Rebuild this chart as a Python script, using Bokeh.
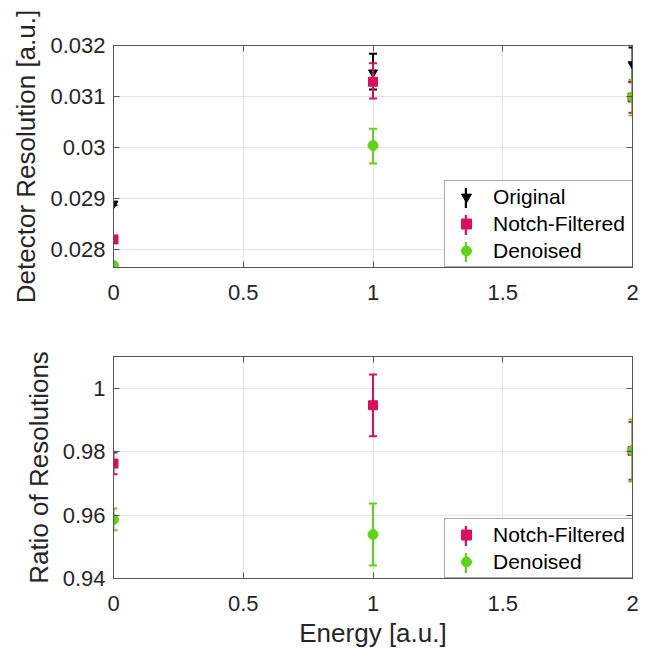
from bokeh.plotting import figure
from bokeh.models import (ColumnDataSource, Whisker, TeeHead, Range1d, FixedTicker,
                          LinearAxis, CustomJSTickFormatter, Legend, LegendItem)
from bokeh.layouts import column
from bokeh.embed import file_html
from bokeh.resources import INLINE

# ---------------- data ----------------
energy = [0, 1, 2]

orig_res = [0.02890, 0.03147, 0.03163]
orig_lo = [0.02887, 0.03114, 0.03129]
orig_hi = [0.02893, 0.03184, 0.03196]

notch_res = [0.02820, 0.03129, 0.03098]
notch_lo = [0.02818, 0.03096, 0.03068]
notch_hi = [0.02822, 0.03165, 0.03128]

den_res = [0.02769, 0.03004, 0.03099]
den_lo = [0.02767, 0.02969, 0.03063]
den_hi = [0.02771, 0.03037, 0.03133]

notch_ratio = [0.9763, 0.9947, 0.9803]
notch_ratio_lo = [0.9729, 0.9849, 0.9712]
notch_ratio_hi = [0.9798, 1.0044, 0.9894]

den_ratio = [0.9586, 0.9539, 0.9804]
den_ratio_lo = [0.9552, 0.9441, 0.9706]
den_ratio_hi = [0.9621, 0.9637, 0.9902]

x_ticks = [0, 0.5, 1, 1.5, 2]
top_y_ticks = [0.028, 0.029, 0.03, 0.031, 0.032]
bottom_y_ticks = [0.94, 0.96, 0.98, 1.0]

labels_top = ["Original", "Notch-Filtered", "Denoised"]
labels_bottom = ["Notch-Filtered", "Denoised"]

# ---------------- style ----------------
FONT = "Liberation Sans"
BLACK = "#000000"
RED = "#DC0F5E"
GREEN = "#5ED317"
AXC = "#555555"
TXT = "#262626"
GRID = "#e3e3e3"


def fmt():
    return CustomJSTickFormatter(code="return String(parseFloat(tick.toPrecision(8)));")


def style(p, yticks, ylabel, xlabel=None):
    p.outline_line_color = AXC
    p.outline_line_alpha = 1
    p.background_fill_color = "white"
    p.border_fill_color = "white"
    xt = FixedTicker(ticks=x_ticks)
    yt = FixedTicker(ticks=yticks)
    p.xaxis.ticker = xt
    p.yaxis.ticker = yt
    p.xgrid.ticker = xt
    p.ygrid.ticker = yt
    for g in (p.xgrid, p.ygrid):
        g.grid_line_color = GRID
        g.grid_line_width = 1
    for ax in (p.xaxis[0], p.yaxis[0]):
        ax.formatter = fmt()
        ax.axis_line_color = AXC
        ax.major_tick_line_color = AXC
        ax.major_tick_in = 6
        ax.major_tick_out = 0
        ax.minor_tick_line_color = None
        ax.major_label_text_font = FONT
        ax.major_label_text_font_size = "22px"
        ax.major_label_text_color = TXT
        ax.axis_label_text_font = FONT
        ax.axis_label_text_font_size = "26px"
        ax.axis_label_text_font_style = "normal"
        ax.axis_label_text_color = TXT
    p.xaxis[0].major_label_standoff = 17
    p.yaxis[0].major_label_standoff = 8
    p.yaxis[0].axis_label = ylabel
    p.yaxis[0].axis_label_standoff = 6
    if xlabel:
        p.xaxis[0].axis_label = xlabel
        p.xaxis[0].axis_label_standoff = 4
    # box ticks on right and top (no labels)
    for side, tk in (("right", yt), ("above", xt)):
        ax = LinearAxis(ticker=tk, formatter=CustomJSTickFormatter(code="return '';"),
                        axis_line_color=AXC, major_tick_line_color=AXC,
                        major_tick_in=6, major_tick_out=0,
                        minor_tick_line_color=None, major_label_standoff=0,
                        major_label_text_font_size="10px")
        p.add_layout(ax, side)


def series(p, x, y, lo, hi, color, marker, size):
    src = ColumnDataSource(dict(x=x, y=y, lo=lo, hi=hi))
    w = Whisker(source=src, base="x", upper="hi", lower="lo", dimension="height",
                line_color=color, line_width=2, level="glyph",
                upper_head=TeeHead(size=8, line_color=color, line_width=2),
                lower_head=TeeHead(size=8, line_color=color, line_width=2))
    p.add_layout(w)
    r = p.scatter("x", "y", source=src, marker=marker, size=size,
                  fill_color=color, line_color=color, line_width=1)
    # zero-width quad spanning the error bar: invisible in the plot, used for legend bar
    b = p.quad(left="x", right="x", bottom="lo", top="hi", source=src,
               fill_color=color, line_alpha=0)
    return r, b


def add_legends(p, pairs, labels):
    leg = Legend(items=[LegendItem(label=l, renderers=[r]) for l, (r, b) in zip(labels, pairs)],
                 location=(331, 0), padding=3, spacing=2, margin=0,
                 glyph_width=36, glyph_height=25, label_height=25, label_width=137,
                 label_standoff=9, label_text_font=FONT, label_text_font_size="21px",
                 label_text_color=BLACK, border_line_color=AXC, border_line_width=1,
                 background_fill_color="white", background_fill_alpha=1)
    p.add_layout(leg)
    leg2 = Legend(items=[LegendItem(label=" ", renderers=[b]) for l, (r, b) in zip(labels, pairs)],
                  location=(347.5, 0), padding=3, spacing=2, margin=0,
                  glyph_width=3, glyph_height=25, label_height=25, label_width=1,
                  label_standoff=0, label_text_font=FONT, label_text_font_size="21px",
                  border_line_alpha=0, background_fill_alpha=0)
    p.add_layout(leg2)


# ---------------- top figure ----------------
p1 = figure(width=649, height=310, output_backend="svg", toolbar_location=None,
            x_range=Range1d(0, 2), y_range=Range1d(0.02765, 0.0320),
            min_border_left=113, min_border_right=17, min_border_top=45, min_border_bottom=43)
style(p1, top_y_ticks, "Detector Resolution [a.u.]")
s_o = series(p1, energy, orig_res, orig_lo, orig_hi, BLACK, "inverted_triangle", 9)
s_n = series(p1, energy, notch_res, notch_lo, notch_hi, RED, "square", 9)
s_d = series(p1, energy, den_res, den_lo, den_hi, GREEN, "circle", 10)
add_legends(p1, [s_o, s_n, s_d], labels_top)

# ---------------- bottom figure ----------------
p2 = figure(width=649, height=343, output_backend="svg", toolbar_location=None,
            x_range=Range1d(0, 2), y_range=Range1d(0.94, 1.0101),
            min_border_left=113, min_border_right=17, min_border_top=46, min_border_bottom=75)
style(p2, bottom_y_ticks, "Ratio of Resolutions", "Energy [a.u.]")
t_n = series(p2, energy, notch_ratio, notch_ratio_lo, notch_ratio_hi, RED, "square", 9)
t_d = series(p2, energy, den_ratio, den_ratio_lo, den_ratio_hi, GREEN, "circle", 10)
add_legends(p2, [t_n, t_d], labels_bottom)

layout = column(p1, p2, spacing=0)
open("out.html", "w").write(file_html(layout, INLINE))
